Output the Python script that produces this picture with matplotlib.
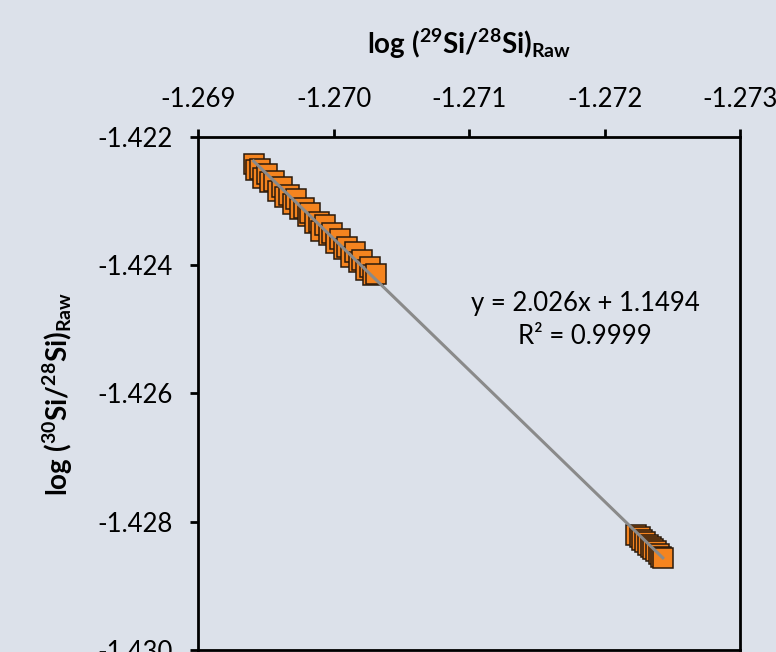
import matplotlib
matplotlib.use('Agg')
import matplotlib.pyplot as plt
import numpy as np

# cluster near -1.2694 .. -1.2703
x_a = [-1.26941, -1.26943, -1.26946, -1.26948, -1.26951, -1.26953, -1.26956,
       -1.26959, -1.26962, -1.26964, -1.26967, -1.26970, -1.26972, -1.26975,
       -1.26978, -1.26981, -1.26983, -1.26986, -1.26989, -1.26991, -1.26994,
       -1.26997, -1.26999, -1.27002, -1.27005, -1.27008, -1.27010, -1.27013,
       -1.27016, -1.27019, -1.27021, -1.27024, -1.27027, -1.27029, -1.27031]
y_a = [-1.42242, -1.42252, -1.42250, -1.42264, -1.42257, -1.42270, -1.42268,
       -1.42284, -1.42278, -1.42293, -1.42290, -1.42305, -1.42296, -1.42312,
       -1.42310, -1.42324, -1.42318, -1.42334, -1.42332, -1.42346, -1.42338,
       -1.42353, -1.42349, -1.42365, -1.42359, -1.42375, -1.42371, -1.42387,
       -1.42380, -1.42395, -1.42392, -1.42407, -1.42402, -1.42415, -1.42414]

# cluster near -1.2722 .. -1.2724
x_b = [-1.27223, -1.27226, -1.27228, -1.27230, -1.27232, -1.27234,
       -1.27236, -1.27238, -1.27240, -1.27242, -1.27243]
y_b = [-1.42820, -1.42824, -1.42829, -1.42831, -1.42836, -1.42839,
       -1.42843, -1.42846, -1.42850, -1.42855, -1.42856]

x_ticks = [-1.269, -1.270, -1.271, -1.272, -1.273]
y_ticks = [-1.422, -1.424, -1.426, -1.428, -1.430]
eq_text = 'y = 2.026x + 1.1494'
r2_text = 'R² = 0.9999'

BG = '#dce1ea'
FONT = 'Lato'

plt.rcParams['font.family'] = [FONT, 'DejaVu Sans']
plt.rcParams['mathtext.fontset'] = 'custom'
plt.rcParams['mathtext.rm'] = FONT
plt.rcParams['mathtext.bf'] = FONT + ':bold'

fig = plt.figure(figsize=(7.76, 6.52), dpi=100, facecolor=BG)
ax = fig.add_axes([0.2552, 0.0031, 0.6984, 0.7868], facecolor=BG)

xs = np.array(x_a + x_b)
ys = np.array(y_a + y_b)
ax.plot(xs, ys, ls='none', marker='s', markersize=14,
        markerfacecolor='#f5841f', markeredgecolor='#2a1a0c',
        markeredgewidth=1.1, zorder=3)

# linear trendline over the data range
k, b = np.polyfit(xs, ys, 1)
xl = np.array([xs.max(), xs.min()])
ax.plot(xl, k * xl + b, color='#8a8a8a', lw=2.2, zorder=4)

ax.set_xlim(-1.269, -1.273)
ax.set_ylim(-1.430, -1.422)
ax.set_xticks(x_ticks)
ax.set_yticks(y_ticks)
ax.set_xticklabels(['%.3f' % v for v in x_ticks])
ax.set_yticklabels(['%.3f' % v for v in y_ticks])

ax.xaxis.set_ticks_position('top')
ax.xaxis.set_label_position('top')
ax.tick_params(axis='both', direction='out', length=6, width=2,
               labelsize=18.5, color='black')
ax.tick_params(axis='x', pad=12)
ax.tick_params(axis='y', pad=12)
for s in ax.spines.values():
    s.set_linewidth(2)
    s.set_color('black')

ax.set_xlabel(r'log ($\mathbf{^{29}}$Si/$\mathbf{^{28}}$Si)$\mathbf{_{Raw}}$',
              fontsize=20, fontweight='bold', labelpad=24)
ax.set_ylabel(r'log ($\mathbf{^{30}}$Si/$\mathbf{^{28}}$Si)$\mathbf{_{Raw}}$',
              fontsize=20, fontweight='bold', labelpad=16)

ax.text(0.714, 0.676, eq_text, transform=ax.transAxes, ha='center',
        va='center', fontsize=18.5)
ax.text(0.714, 0.612, r2_text, transform=ax.transAxes, ha='center',
        va='center', fontsize=18.5)

fig.savefig('out.png', dpi=100, facecolor=BG)
